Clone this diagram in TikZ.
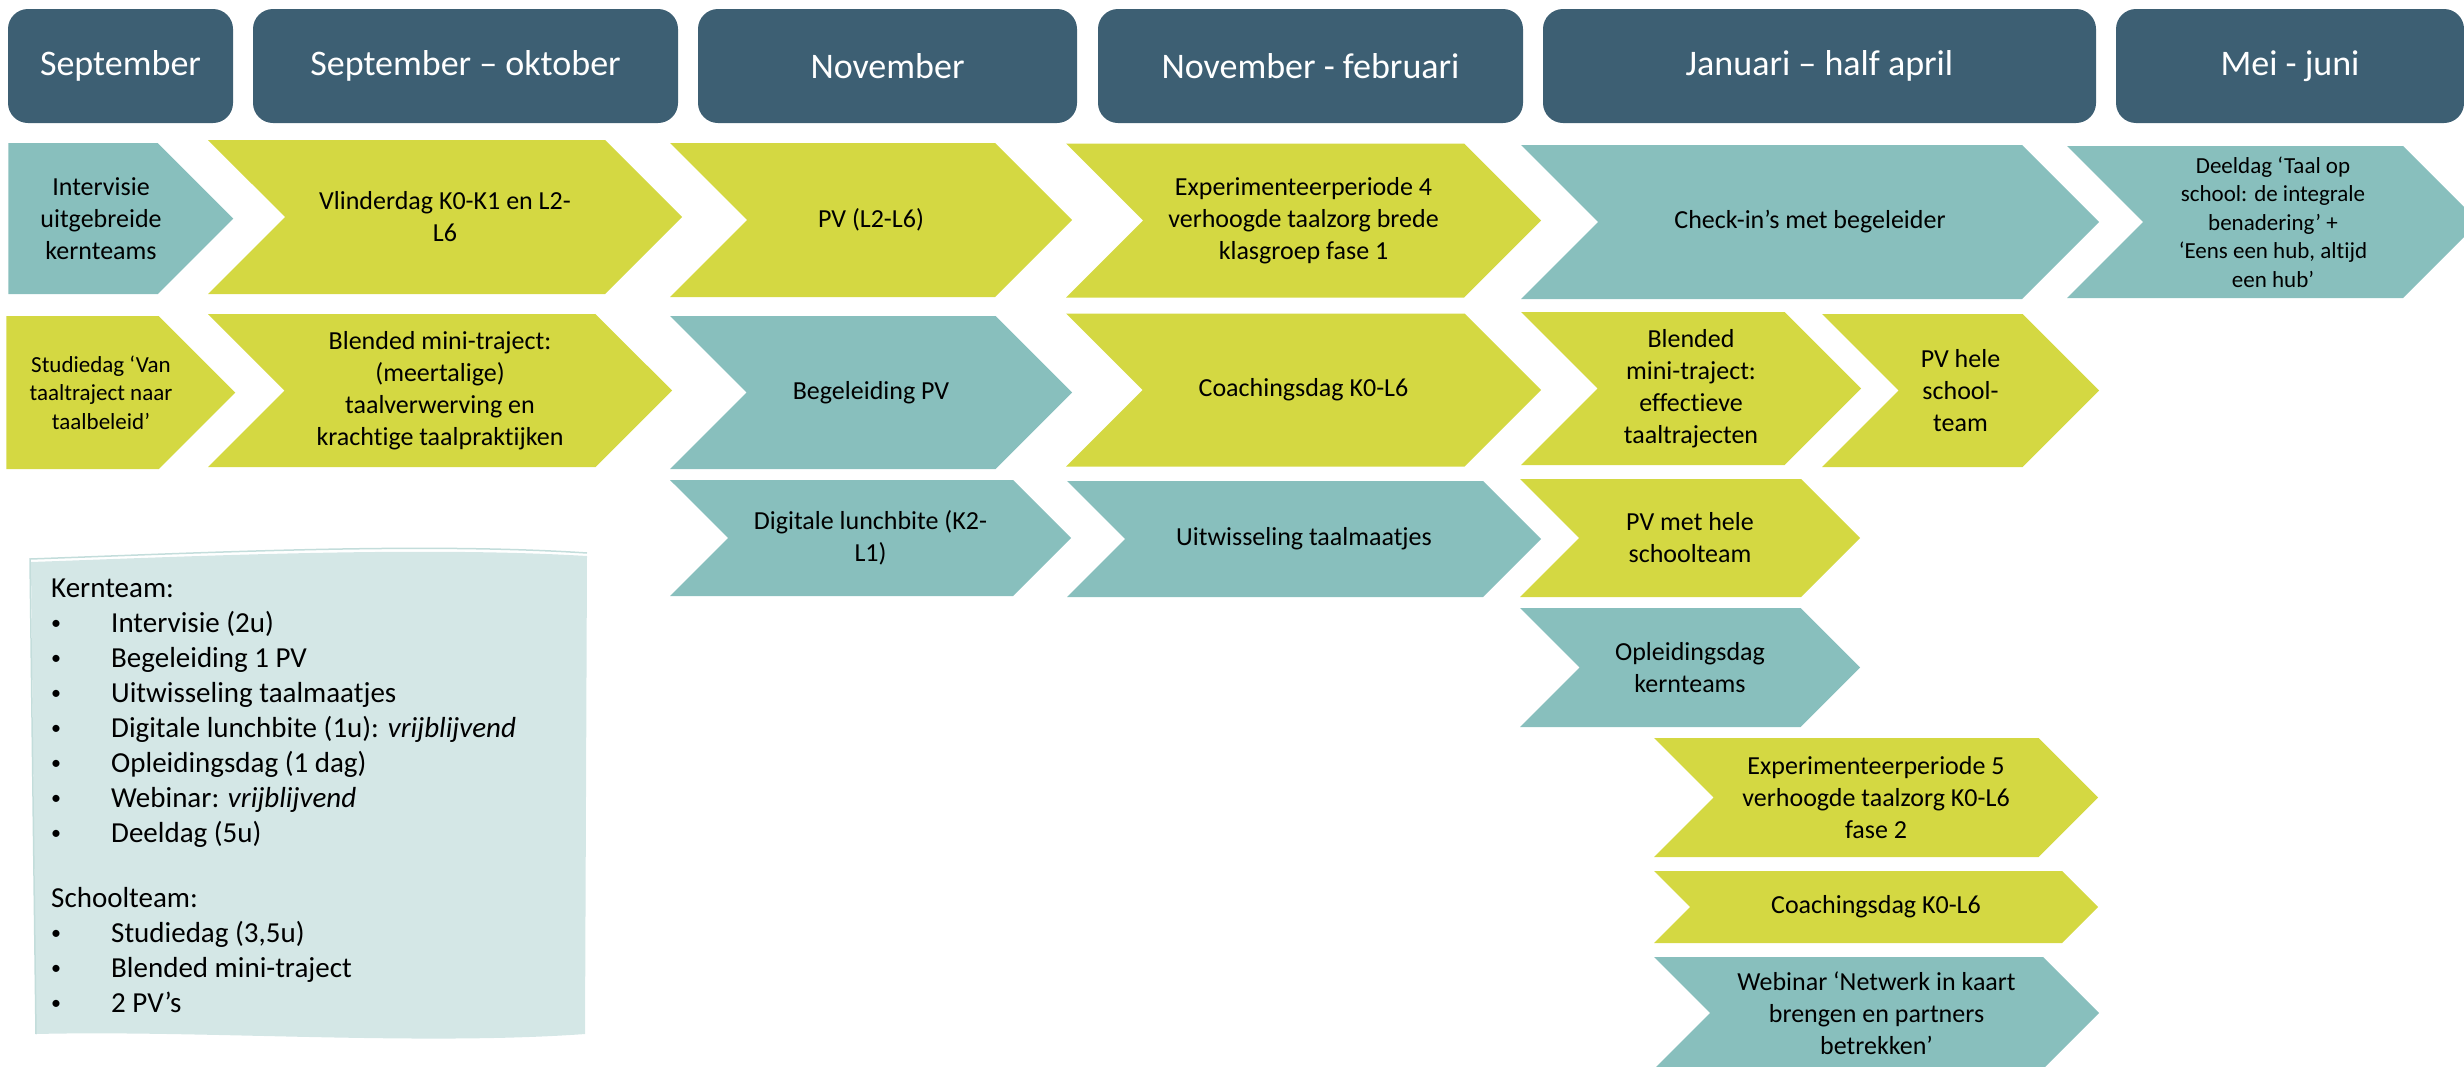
\documentclass[tikz,border=0pt]{standalone}
\usepackage{fontspec}
\setmainfont{Carlito}[Ligatures=CommonOff]
\usetikzlibrary{shapes.symbols,positioning}

\definecolor{petrol}{HTML}{3D5F73}
\definecolor{limoen}{HTML}{D4D842}
\definecolor{zeegroen}{HTML}{88BFBD}
\definecolor{kader}{HTML}{D4E7E6}
\definecolor{kaderlijn}{HTML}{C3DDDB}

\newcommand{\bol}{\makebox[60pt][l]{\raisebox{3pt}{\fontsize{20}{20}\selectfont\textbullet}}}

\tikzset{
  maand/.style  = {rectangle, rounded corners=20pt, fill=petrol, text=white, inner sep=0pt,
                   minimum height=114pt, font=\fontsize{36}{43}\selectfont},
  pijl/.style   = {signal, signal to=east, signal from=west, signal pointer angle=90,
                   inner sep=0pt, align=center, font=\fontsize{26}{32}\selectfont},
  start/.style  = {pijl, signal from=nowhere},
  tekst/.style  = {inner sep=0pt, align=center, font=\fontsize{26}{32}\selectfont},
  geel/.style   = {fill=limoen},
  blauw/.style  = {fill=zeegroen},
  klein/.style  = {font=\fontsize{23}{28.5}\selectfont},
  punt/.style   = {anchor=base west, inner sep=0pt, font=\fontsize{29}{35}\selectfont}
}

\begin{document}
\begin{tikzpicture}[x=1pt,y=-1pt]
    \useasboundingbox (0,0) rectangle (2464,1066);
    \clip (0,0) rectangle (2464,1066);

    % months
    \node[maand, minimum width=225pt] (m1) at (120.5,66) {September};
    \node[maand, minimum width=425pt] (m2) at (465.5,66) {September – oktober};
    \node[maand, minimum width=379pt] (m3) at (887.5,66) {November};
    \node[maand, minimum width=425pt] (m4) at (1310.5,66) {November - februari};
    \node[maand, minimum width=553pt] (m5) at (1819.5,66) {Januari – half april};
    \node[maand, minimum width=348pt] (m6) at (2290,66) {Mei - juni};

    % first row
    \node[start, blauw, minimum width=225pt, minimum height=151pt] (c1) at (83,218.5) {};
    \node[tekst] (c1t) at (101,218.5) {Intervisie\\uitgebreide\\kernteams};
    \node[pijl, geel, minimum width=474pt, minimum height=154pt] (c2) at (445,217) {Vlinderdag K0-K1 en L2-\\L6};
    \node[pijl, geel, minimum width=402pt, minimum height=154pt] (c3) at (871,220) {PV (L2-L6)};
    \node[pijl, geel, minimum width=475pt, minimum height=154pt] (c4) at (1303.5,220.5) {Experimenteerperiode 4\\verhoogde taalzorg brede\\klasgroep fase 1};
    \node[pijl, blauw, minimum width=578pt, minimum height=154pt] (c5) at (1810,222) {Check-in’s met begeleider};
    \node[pijl, blauw, klein, minimum width=412pt, minimum height=152pt] (c6) at (2273,222) {Deeldag ‘Taal op\\school: de integrale\\benadering’ +\\‘Eens een hub, altijd\\een hub’};

    % second row
    \node[start, geel, minimum width=229pt, minimum height=153pt] (d1) at (82.5,392.5) {};
    \node[tekst, klein] (d1t) at (101,392.5) {Studiedag ‘Van\\taaltraject naar\\taalbeleid’};
    \node[pijl, geel, minimum width=464pt, minimum height=153pt] (d2) at (440,390.5) {Blended mini-traject:\\(meertalige)\\taalverwerving en\\krachtige taalpraktijken};
    \node[pijl, blauw, minimum width=402pt, minimum height=153pt] (d3) at (871,392.5) {Begeleiding PV};
    \node[pijl, geel, minimum width=475pt, minimum height=153pt] (d4) at (1303.5,390) {Coachingsdag K0-L6};
    \node[pijl, geel, minimum width=340pt, minimum height=153pt] (d5) at (1691,388.5) {Blended\\mini-traject:\\effectieve\\taaltrajecten};
    \node[pijl, geel, minimum width=277pt, minimum height=153pt] (d6) at (1960.5,390.5) {PV hele\\school-\\team};

    % lower rows
    \node[pijl, blauw, minimum width=401pt, minimum height=116pt] (e3) at (870.5,538) {Digitale lunchbite (K2-\\L1)};
    \node[pijl, blauw, minimum width=474pt, minimum height=116pt] (e4) at (1304,539) {Uitwisseling taalmaatjes};
    \node[pijl, geel, minimum width=340pt, minimum height=118pt] (e5) at (1690,538) {PV met hele\\schoolteam};
    \node[pijl, blauw, minimum width=340pt, minimum height=119pt] (f5) at (1690,667.5) {Opleidingsdag\\kernteams};
    \node[pijl, geel, minimum width=444pt, minimum height=119pt] (g5) at (1876,797.5) {Experimenteerperiode 5\\verhoogde taalzorg K0-L6\\fase 2};
    \node[pijl, geel, minimum width=444pt, minimum height=72pt] (h5) at (1876,907) {Coachingsdag K0-L6};
    \node[pijl, blauw, minimum width=445pt, minimum height=112pt] (i5) at (1876.5,1013) {Webinar ‘Netwerk in kaart\\brengen en partners\\betrekken’};

    % legend
    \fill[kader] (31,562) .. controls (200,556) and (420,546) .. (587,556)
      -- (585,1034) .. controls (420,1046) and (200,1030) .. (36,1034) -- cycle;
    \draw[kaderlijn, line width=1.5pt] (36,1034) -- (30,559) .. controls (200,553) and (420,542) .. (587,553);

    \node[punt] (kern) at (51,597) {Kernteam:};
    \foreach \txt [count=\i] in {Intervisie (2u), Begeleiding 1 PV, Uitwisseling taalmaatjes,
        {Digitale lunchbite (1u): \textit{vrijblijvend}}, Opleidingsdag (1 dag),
        {Webinar: \textit{vrijblijvend}}, Deeldag (5u)}
      \node[punt] (k\i) at (51,{597+35*\i}) {\bol\txt};

    \node[punt] (school) at (51,907) {Schoolteam:};
    \foreach \txt [count=\i] in {{Studiedag (3,5u)}, Blended mini-traject, 2 PV’s}
      \node[punt] (s\i) at (51,{907+35*\i}) {\bol\txt};
\end{tikzpicture}
\end{document}
